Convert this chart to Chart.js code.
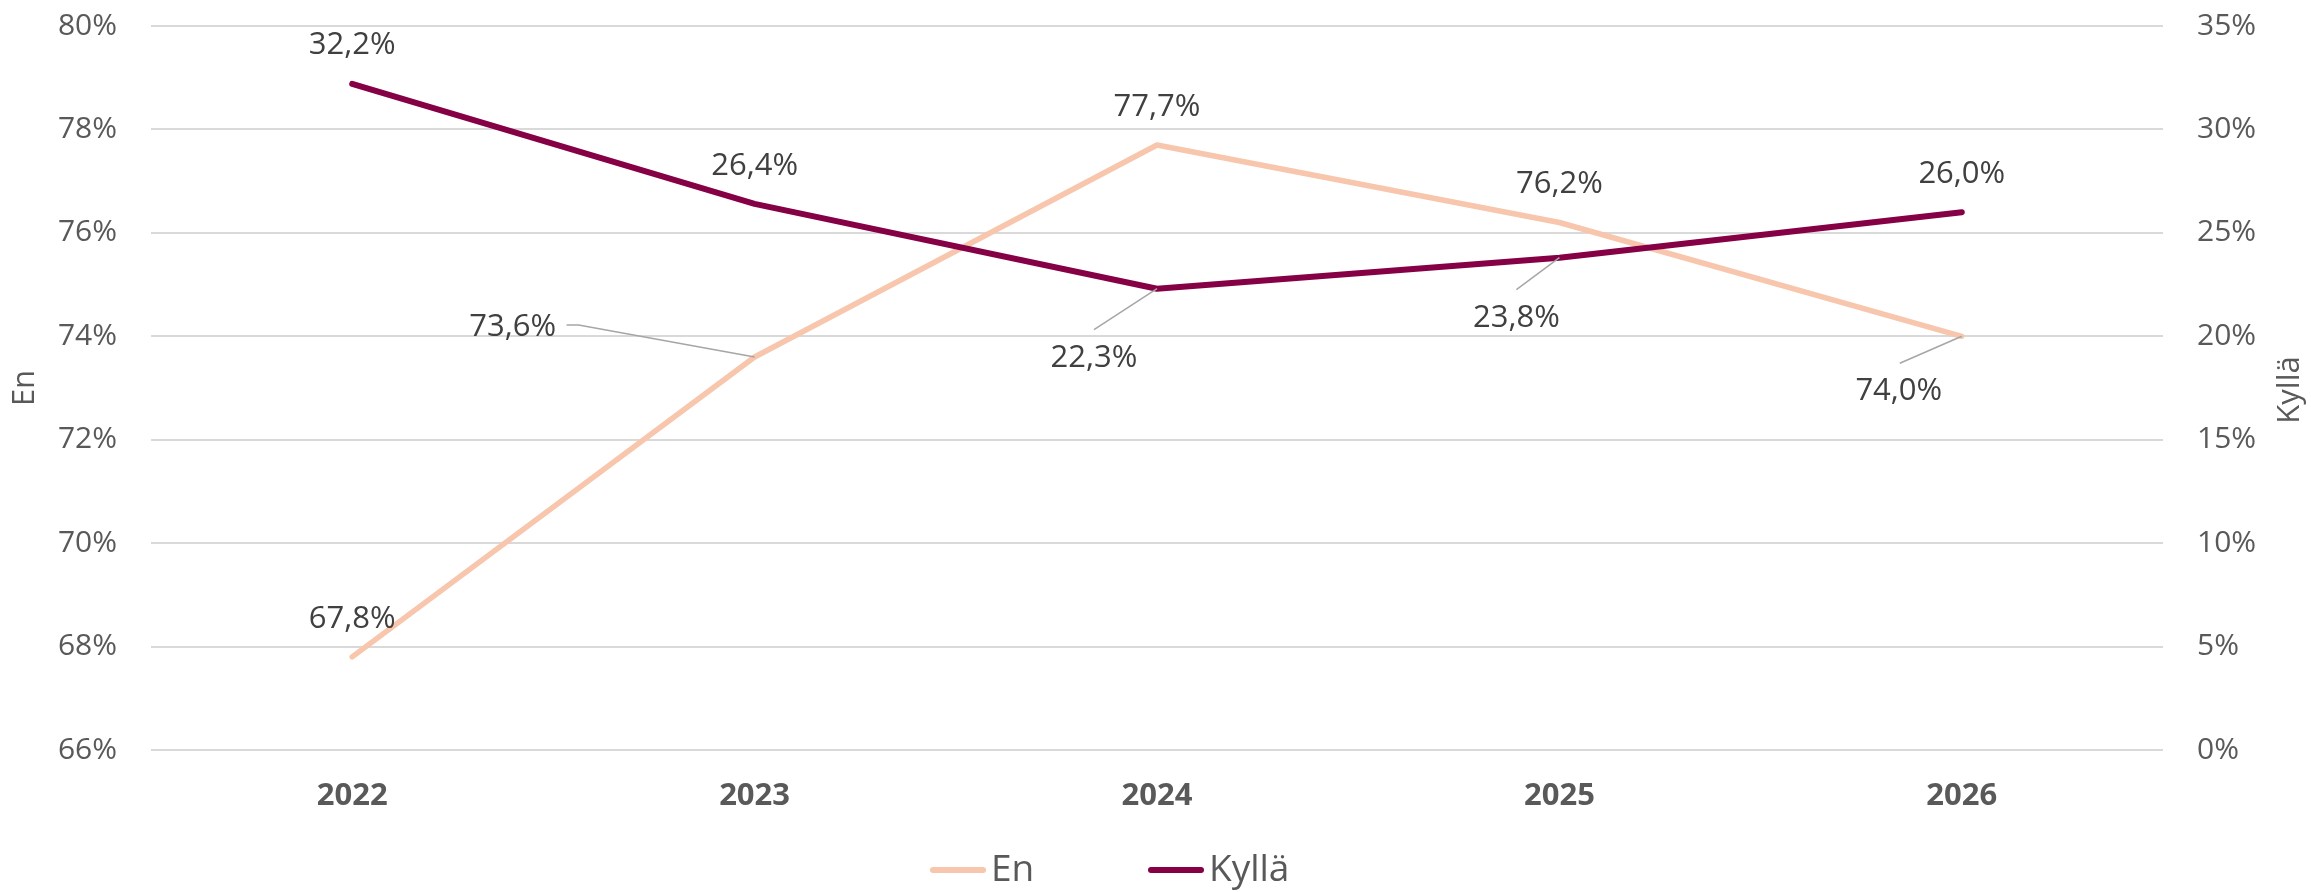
<!DOCTYPE html>
<html>
<head>
<meta charset="utf-8">
<script src="https://cdn.jsdelivr.net/npm/chart.js@4.4.0/dist/chart.umd.min.js"></script>
<style>
  html, body { margin: 0; padding: 0; background: #fff; }
  #wrap { width: 2311px; height: 892px; }
</style>
</head>
<body>
<div id="wrap"><canvas id="chart"></canvas></div>
<script>
const years = ['2022', '2023', '2024', '2025', '2026'];
const enValues = [67.8, 73.6, 77.7, 76.2, 74.0];
const kyllaValues = [32.2, 26.4, 22.3, 23.8, 26.0];
const leftRange = [66, 80];
const rightRange = [0, 35];

const textGray = '#595959';
const labelGray = '#404040';

// where each value label sits relative to its point (px), and optional leader line
const enLabelSpots = [
    {dx: 0, dy: -38},
    {dx: -242, dy: -30, leader: [[-176, -32], [-188, -32]]},
    {dx: 0, dy: -38},
    {dx: 0, dy: -38},
    {dx: -63, dy: 55, leader: [[-62, 27]]}
];
const kyllaLabelSpots = [
    {dx: 0, dy: -39},
    {dx: 0, dy: -38},
    {dx: -63, dy: 69, leader: [[-63, 41]]},
    {dx: -43, dy: 60, leader: [[-43, 32]]},
    {dx: 0, dy: -38}
];

// legend entries: left edge of the swatch line
const legendX = [930, 1148];
const legendY = 870;

const fmt = v => v.toFixed(1).replace('.', ',') + '%';

const valueLabels = {
    id: 'valueLabels',
    afterDatasetsDraw(chart) {
        const ctx = chart.ctx;
        ctx.save();
        chart.data.datasets.forEach((ds, i) => {
            const meta = chart.getDatasetMeta(i);
            meta.data.forEach((pt, j) => {
                const spot = ds.labelSpots[j];
                if (spot.leader) {
                    ctx.beginPath();
                    ctx.strokeStyle = '#a6a6a6';
                    ctx.lineWidth = 1.5;
                    ctx.moveTo(pt.x, pt.y);
                    spot.leader.forEach(p => ctx.lineTo(pt.x + p[0], pt.y + p[1]));
                    ctx.stroke();
                }
                ctx.fillStyle = labelGray;
                ctx.font = '31px "Open Sans"';
                ctx.textAlign = 'center';
                ctx.textBaseline = 'middle';
                ctx.fillText(fmt(ds.data[j]), pt.x + spot.dx, pt.y + spot.dy);
            });
        });
        ctx.restore();
    },
    afterDraw(chart) {
        const ctx = chart.ctx;
        ctx.save();
        // right axis title reads bottom-to-top like the left one
        const yr = chart.scales.yRight;
        ctx.save();
        ctx.translate(yr.right - 21, (yr.top + yr.bottom) / 2 + 2);
        ctx.rotate(-Math.PI / 2);
        ctx.fillStyle = textGray;
        ctx.font = '31px "Open Sans"';
        ctx.textAlign = 'center';
        ctx.textBaseline = 'middle';
        ctx.fillText('Kyllä', 0, 0);
        ctx.restore();

        // legend
        chart.data.datasets.forEach((ds, i) => {
            const x = legendX[i];
            ctx.beginPath();
            ctx.strokeStyle = ds.borderColor;
            ctx.lineWidth = 6;
            ctx.lineCap = 'round';
            ctx.moveTo(x + 3, legendY);
            ctx.lineTo(x + 53, legendY);
            ctx.stroke();
            ctx.fillStyle = textGray;
            ctx.font = '37px "Open Sans"';
            ctx.textAlign = 'left';
            ctx.textBaseline = 'middle';
            ctx.fillText(ds.label, x + 61, legendY);
        });
        ctx.restore();
    }
};

Chart.defaults.font.family = '"Open Sans", sans-serif';
Chart.defaults.color = textGray;

const noPad = s => { s.paddingTop = 0; s.paddingBottom = 0; };

const ctx = document.getElementById('chart').getContext('2d');
const chart = new Chart(ctx, {
    type: 'line',
    data: {
        labels: years,
        datasets: [
            {
                label: 'En',
                data: enValues,
                yAxisID: 'yLeft',
                borderColor: '#f7c6ac',
                backgroundColor: '#f7c6ac',
                borderWidth: 5.5,
                borderCapStyle: 'round',
                borderJoinStyle: 'round',
                pointRadius: 0,
                order: 1,
                labelSpots: enLabelSpots
            },
            {
                label: 'Kyllä',
                data: kyllaValues,
                yAxisID: 'yRight',
                borderColor: '#850045',
                backgroundColor: '#850045',
                borderWidth: 6,
                borderCapStyle: 'round',
                borderJoinStyle: 'round',
                pointRadius: 0,
                order: 0,
                labelSpots: kyllaLabelSpots
            }
        ]
    },
    options: {
        responsive: true,
        maintainAspectRatio: false,
        animation: false,
        devicePixelRatio: 1,
        layout: {
            padding: {top: 26, bottom: 0, left: 0, right: 0}
        },
        plugins: {
            tooltip: {enabled: false},
            legend: {display: false}
        },
        scales: {
            x: {
                offset: true,
                grid: {display: false, drawTicks: false},
                border: {display: false},
                ticks: {
                    padding: 28,
                    color: textGray,
                    font: {size: 31, weight: 'bold'}
                },
                afterFit: s => { s.height = 142; }
            },
            yLeft: {
                position: 'left',
                min: leftRange[0],
                max: leftRange[1],
                grid: {color: '#d9d9d9', lineWidth: 2, drawTicks: false},
                border: {display: false},
                ticks: {
                    stepSize: 2,
                    padding: 34,
                    color: textGray,
                    font: {size: 30},
                    callback: v => v + '%'
                },
                title: {
                    display: true,
                    text: 'En',
                    color: textGray,
                    font: {size: 31},
                    padding: {top: 7, bottom: 0}
                },
                afterFit: s => { s.width = 151; noPad(s); }
            },
            yRight: {
                position: 'right',
                min: rightRange[0],
                max: rightRange[1],
                grid: {drawOnChartArea: false, drawTicks: false},
                border: {display: false},
                ticks: {
                    stepSize: 5,
                    padding: 34,
                    color: textGray,
                    font: {size: 30},
                    callback: v => v + '%'
                },
                afterFit: s => { s.width = 148; noPad(s); }
            }
        }
    },
    plugins: [valueLabels]
});
</script>
</body>
</html>
